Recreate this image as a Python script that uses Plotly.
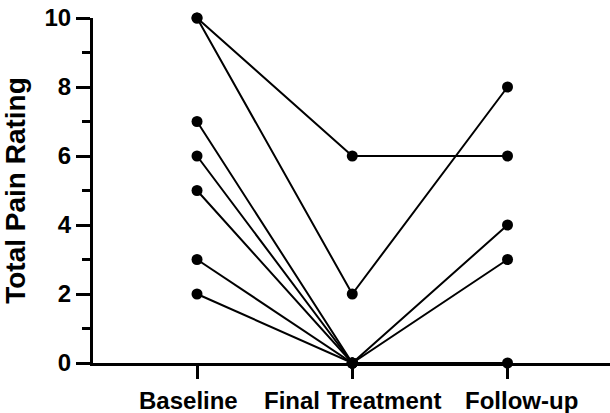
import plotly.graph_objects as go

# Time points and per-subject pain ratings (None = no follow-up recorded)
timepoints = ["Baseline", "Final Treatment", "Follow-up"]
subject_1 = [10, 6, 6]
subject_2 = [10, 2, 8]
subject_3 = [7, 0, 4]
subject_4 = [6, 0, 3]
subject_5 = [5, 0, 0]
subject_6 = [3, 0, None]
subject_7 = [2, 0, None]
subjects = [subject_1, subject_2, subject_3, subject_4, subject_5, subject_6, subject_7]

y_ticks = [0, 2, 4, 6, 8, 10]

font_family = "Liberation Sans, Arial, sans-serif"
label_font = dict(family=font_family, size=24, color="black", weight="bold")

fig = go.Figure()
x_pos = list(range(len(timepoints)))
for vals in subjects:
    fig.add_trace(go.Scatter(
        x=x_pos, y=vals, mode="lines+markers",
        line=dict(color="black", width=2),
        marker=dict(color="black", size=11),
        cliponaxis=False, showlegend=False, connectgaps=False,
    ))

# Category labels under the x axis, nudged apart horizontally
label_shift = [-9, 0, 14]
for xp, name, dx in zip(x_pos, timepoints, label_shift):
    fig.add_annotation(
        x=xp, y=0, xref="x", yref="paper", text=name, showarrow=False,
        xanchor="center", yanchor="top", xshift=dx, yshift=-22,
        font=label_font,
    )

fig.update_layout(
    width=610, height=413,
    margin=dict(l=93, r=0, t=18, b=50),
    plot_bgcolor="white", paper_bgcolor="white",
)
fig.update_xaxes(
    range=[-0.67, 2.66],
    tickvals=x_pos, showticklabels=False,
    showline=True, linecolor="black", linewidth=3,
    ticks="outside", ticklen=13, tickwidth=3, tickcolor="black",
    showgrid=False, zeroline=False,
)
fig.update_yaxes(
    range=[0, 10],
    tickvals=y_ticks,
    showline=True, linecolor="black", linewidth=3,
    ticks="outside", ticklen=14, tickwidth=3, tickcolor="black",
    minor=dict(dtick=1, ticks="outside", ticklen=8, tickwidth=3, tickcolor="black", showgrid=False),
    showgrid=False, zeroline=False,
    tickfont=label_font,
    title=dict(text="Total Pain Rating", standoff=11,
               font=dict(family=font_family, size=28, color="black", weight="bold")),
)

fig.write_html("out.html")
